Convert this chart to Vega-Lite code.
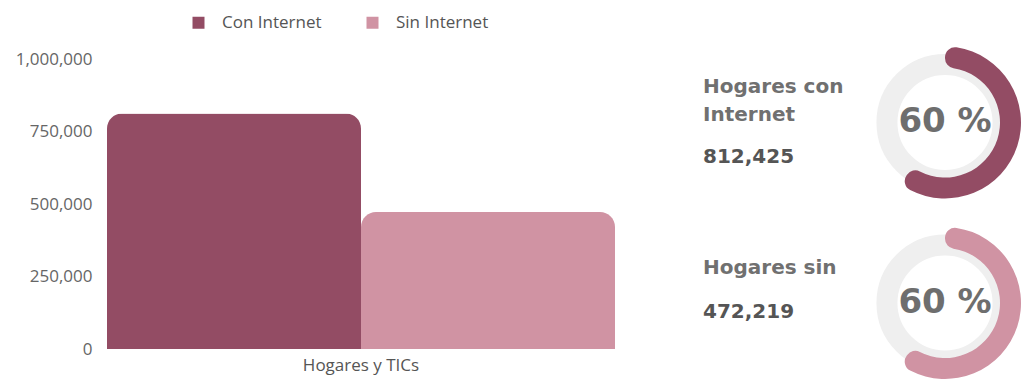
{
  "$schema": "https://vega.github.io/schema/vega-lite/v6.json",
  "padding": {"left": 15, "top": 14, "right": 0, "bottom": 0},
  "background": "white",
  "config": {"view": {"stroke": null}, "font": "Open Sans"},
  "bounds": "flush",
  "spacing": 87,
  "resolve": {"scale": {"color": "independent"}, "legend": {"color": "independent"}},
  "hconcat": [
    {
      "width": 508,
      "height": 290,
      "data": {"values": [
        {"categoria": "Hogares y TICs", "grupo": "Con Internet", "hogares": 812425},
        {"categoria": "Hogares y TICs", "grupo": "Sin Internet", "hogares": 472219}
      ]},
      "mark": {"type": "bar", "cornerRadiusTopLeft": 15, "cornerRadiusTopRight": 15},
      "encoding": {
        "x": {"field": "categoria", "type": "nominal", "scale": {"paddingInner": 0, "paddingOuter": 0},
          "axis": {"title": null, "labelAngle": 0, "domain": false, "ticks": false, "tickSize": 0, "labelFontSize": 17, "labelColor": "#555555", "labelPadding": 8}},
        "xOffset": {"field": "grupo", "type": "nominal", "scale": {"paddingInner": 0, "paddingOuter": 0}},
        "y": {"field": "hogares", "type": "quantitative", "scale": {"domain": [0, 1000000]},
          "axis": {"title": null, "values": [0, 250000, 500000, 750000, 1000000], "format": ",.0f", "grid": false, "domain": false, "ticks": false, "tickSize": 0, "labelFontSize": 17, "labelColor": "#666666", "labelPadding": 15}},
        "color": {"field": "grupo", "type": "nominal",
          "scale": {"domain": ["Con Internet", "Sin Internet"], "range": ["#934c64", "#d093a3"]},
          "legend": {"title": null, "orient": "none", "direction": "horizontal", "legendX": 83, "legendY": -45, "symbolType": "square", "symbolSize": 144, "symbolStrokeWidth": 0, "labelFontSize": 17, "labelColor": "#555555", "labelOffset": 15, "columnPadding": 42}}
      }
    },
    {
      "bounds": "flush",
      "spacing": 165,
      "data": {"values": [
        {"grupo": "Con Internet", "titulo": ["Hogares con", "Internet"], "hogares": 812425, "porcentaje": 60, "etiqueta": "60 %"},
        {"grupo": "Sin Internet", "titulo": ["Hogares sin"], "hogares": 472219, "porcentaje": 60, "etiqueta": "60 %"}
      ]},
      "hconcat": [
        {
          "width": 2,
          "height": 320,
          "layer": [
            {
              "mark": {"type": "text", "align": "left", "baseline": "top", "dy": -45, "font": "DejaVu Sans", "fontWeight": "bold", "fontSize": 20, "lineHeight": 28, "color": "#707070"},
              "encoding": {
                "y": {"field": "grupo", "type": "nominal", "scale": {"type": "point", "domain": ["Con Internet", "Sin Internet"], "padding": 0.3864, "align": 0.4552}, "axis": null},
                "text": {"field": "titulo", "type": "nominal"}
              }
            },
            {
              "transform": [{"filter": "datum.grupo == 'Con Internet'"}],
              "mark": {"type": "text", "align": "left", "baseline": "middle", "dy": 35, "font": "DejaVu Sans", "fontWeight": "bold", "fontSize": 20, "color": "#555555"},
              "encoding": {
                "y": {"field": "grupo", "type": "nominal", "scale": {"type": "point", "domain": ["Con Internet", "Sin Internet"], "padding": 0.3864, "align": 0.4552}, "axis": null},
                "text": {"field": "hogares", "type": "quantitative", "format": ","}
              }
            },
            {
              "transform": [{"filter": "datum.grupo == 'Sin Internet'"}],
              "mark": {"type": "text", "align": "left", "baseline": "middle", "dy": 9, "font": "DejaVu Sans", "fontWeight": "bold", "fontSize": 20, "color": "#555555"},
              "encoding": {
                "y": {"field": "grupo", "type": "nominal", "scale": {"type": "point", "domain": ["Con Internet", "Sin Internet"], "padding": 0.3864, "align": 0.4552}, "axis": null},
                "text": {"field": "hogares", "type": "quantitative", "format": ","}
              }
            }
          ]
        },
        {
          "width": 152,
          "height": 320,
          "layer": [
            {
              "mark": {"type": "point", "shape": "circle", "size": 13478, "filled": false, "stroke": "#efefef", "strokeWidth": 21, "opacity": 1},
              "encoding": {
                "y": {"field": "grupo", "type": "nominal", "scale": {"type": "point", "domain": ["Con Internet", "Sin Internet"], "padding": 0.3864, "align": 0.4552}, "axis": null}
              }
            },
            {
              "transform": [{"filter": "datum.grupo == 'Con Internet'"}],
              "mark": {"type": "arc", "outerRadius": 76, "innerRadius": 55, "cornerRadius": 10, "color": "#934c64"},
              "encoding": {
                "y": {"field": "grupo", "type": "nominal", "scale": {"type": "point", "domain": ["Con Internet", "Sin Internet"], "padding": 0.3864, "align": 0.4552}, "axis": null},
                "theta": {"field": "porcentaje", "type": "quantitative", "scale": {"domain": [0, 100]}}
              }
            },
            {
              "transform": [{"filter": "datum.grupo == 'Sin Internet'"}],
              "mark": {"type": "arc", "outerRadius": 76, "innerRadius": 55, "cornerRadius": 10, "color": "#d093a3"},
              "encoding": {
                "y": {"field": "grupo", "type": "nominal", "scale": {"type": "point", "domain": ["Con Internet", "Sin Internet"], "padding": 0.3864, "align": 0.4552}, "axis": null},
                "theta": {"field": "porcentaje", "type": "quantitative", "scale": {"domain": [0, 100]}}
              }
            },
            {
              "mark": {"type": "text", "align": "center", "baseline": "middle", "font": "DejaVu Sans", "fontWeight": "bold", "fontSize": 34, "color": "#6e6e6e"},
              "encoding": {
                "y": {"field": "grupo", "type": "nominal", "scale": {"type": "point", "domain": ["Con Internet", "Sin Internet"], "padding": 0.3864, "align": 0.4552}, "axis": null},
                "text": {"field": "etiqueta", "type": "nominal"}
              }
            }
          ]
        }
      ]
    }
  ]
}
